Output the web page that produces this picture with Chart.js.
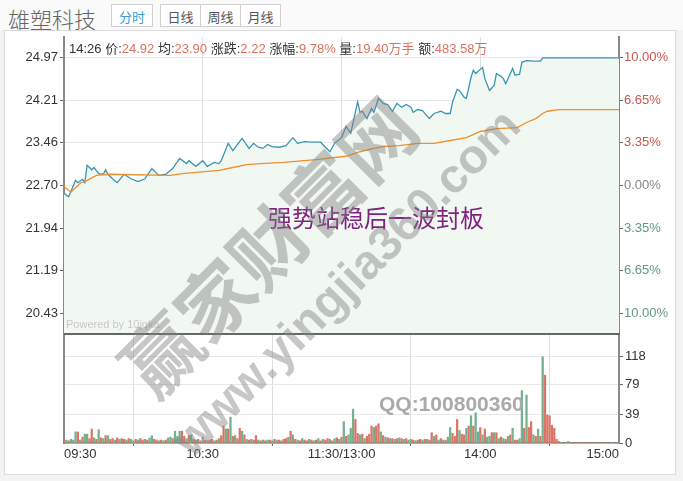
<!DOCTYPE html>
<html>
<head>
<meta charset="utf-8">
<script src="https://cdn.jsdelivr.net/npm/chart.js@4.4.0/dist/chart.umd.min.js"></script>
<style>
  body { margin: 0; width: 683px; height: 481px; overflow: hidden; position: relative; background: #f3f3f3;
         font-family: "Liberation Sans", Arial, "Noto Sans CJK SC", sans-serif; }
  .abs { position: absolute; }
  #top { left: 0; top: 0; width: 683px; height: 30px; background: #fafafa; }
  #title { left: 8px; top: 2px; font-size: 22px; color: #666; font-family: "Noto Sans CJK SC", sans-serif; font-weight: 300; }
  .btn { top: 4px; height: 23px; line-height: 23px; font-size: 13px; text-align: center; border: 1px solid #d0d0d0;
         box-sizing: border-box; background: #fff; color: #555; font-family: "Noto Sans CJK SC", sans-serif; }
  #frame { left: 4px; top: 30px; width: 672px; height: 445px; background: #fff; border: 1px solid #dcdcdc; box-sizing: border-box; }
  #info { left: 69px; top: 38px; font-size: 13px; color: #333; white-space: nowrap; font-family: "Liberation Sans", Arial, "Noto Sans CJK SC", sans-serif; }
  #info b { font-weight: normal; color: #d9735f; }
  #sep { left: 64px; top: 333px; width: 556px; height: 2px; background: #666; }
  #powered { left: 66px; top: 318px; font-size: 11px; color: #c8c8c8; }
  #note { left: 268px; top: 199px; font-size: 24px; color: #7f2280; font-family: "Noto Sans CJK SC", sans-serif; white-space: nowrap; }
  .wm { color: rgba(130,130,130,0.45); white-space: nowrap; transform-origin: center center; pointer-events: none; }
  #wm1 { left: 266px; top: 244px; font-size: 76px; font-weight: bold; font-family: "Noto Sans CJK SC", sans-serif;
         transform: translate(-50%, -50%) rotate(-45deg); }
  #wm2 { left: 346px; top: 282px; font-size: 48px; font-weight: bold;
         transform: translate(-50%, -50%) rotate(-45deg); }
  #qq { left: 379px; top: 392px; font-size: 21px; font-weight: bold; color: #aaa; }
</style>
</head>
<body>
<div id="top" class="abs"></div>
<div id="title" class="abs">雄塑科技</div>
<div class="abs btn" style="left:111px;width:42px;color:#3a9ccc;">分时</div>
<div class="abs btn" style="left:160px;width:41px;">日线</div>
<div class="abs btn" style="left:200px;width:41px;">周线</div>
<div class="abs btn" style="left:240px;width:41px;">月线</div>
<div id="frame" class="abs"></div>

<canvas id="priceChart" class="abs" width="672" height="305" style="left:4px;top:30px;"></canvas>
<canvas id="volChart" class="abs" width="672" height="140" style="left:4px;top:334px;"></canvas>
<div id="sep" class="abs"></div>

<div id="info" class="abs">14:26 价:<b>24.92</b> 均:<b>23.90</b> 涨跌:<b>2.22</b> 涨幅:<b>9.78%</b> 量:<b>19.40万手</b> 额:<b>483.58万</b></div>
<div id="powered" class="abs">Powered by 10jqka</div>
<div id="note" class="abs">强势站稳后一波封板</div>
<div id="wm1" class="abs wm">赢家财富网</div>
<div id="wm2" class="abs wm">www.yingjia360.com</div>
<div id="qq" class="abs">QQ:100800360</div>

<script>
// minutes since open (0 = 09:30, 120 = 11:30/13:00, 240 = 15:00)
const priceMin = [0, 2, 5, 6, 8, 9, 10, 12, 13, 15, 17, 18, 19, 21, 23, 26, 29, 32, 35, 38,
  41, 44, 47, 50, 53, 54, 57, 60, 62, 65, 67, 68, 71, 73, 77, 80, 82, 84, 86, 88,
  90, 93, 96, 99, 101, 104, 107, 111, 113, 115, 117, 120, 122, 124, 127, 128, 129, 131, 133, 134,
  136, 138, 140, 142, 144, 146, 148, 150, 151, 153, 155, 158, 160, 163, 165, 167, 168, 170, 171, 173,
  174, 176, 177, 178, 181, 182, 184, 186, 187, 189, 190, 191, 193, 194, 195, 197, 198, 200, 203, 206,
  207, 240];
const price = [22.56, 22.50, 22.79, 22.75, 22.81, 22.75, 23.06, 22.98, 23.02, 22.91, 22.90, 22.98, 22.90, 22.82, 22.75, 22.90, 22.82, 22.77, 22.82, 23.00,
  22.88, 22.90, 23.00, 23.18, 23.09, 23.14, 23.04, 23.14, 23.04, 23.11, 23.09, 23.14, 23.45, 23.32, 23.54, 23.36, 23.45, 23.38, 23.36, 23.43,
  23.39, 23.38, 23.41, 23.55, 23.45, 23.48, 23.47, 23.47, 23.38, 23.30, 23.45, 23.55, 23.75, 23.63, 24.19, 24.00, 24.02, 23.89, 24.07, 24.00,
  24.25, 24.16, 24.14, 24.02, 24.16, 24.09, 24.14, 24.09, 24.00, 24.05, 24.03, 23.89, 23.98, 24.02, 23.98, 23.98, 24.18, 24.41, 24.39, 24.27,
  24.25, 24.62, 24.75, 24.69, 24.80, 24.60, 24.39, 24.48, 24.69, 24.64, 24.60, 24.51, 24.69, 24.78, 24.66, 24.68, 24.89, 24.92, 24.91, 24.91,
  24.97, 24.97];

const avgMin = [0, 3, 7, 10, 14, 20, 46, 51, 56, 67, 73, 79, 85, 95, 109, 122, 128, 134, 138, 145,
  153, 160, 167, 174, 180, 187, 196, 200, 204, 207, 209, 214, 240];
const avgPrice = [22.68, 22.58, 22.74, 22.79, 22.88, 22.90, 22.88, 22.91, 22.93, 22.97, 23.02, 23.07, 23.09, 23.11, 23.16, 23.22, 23.30, 23.36, 23.39, 23.41,
  23.45, 23.45, 23.50, 23.55, 23.66, 23.71, 23.73, 23.82, 23.89, 23.98, 24.02, 24.05, 24.05];

// volume per minute (10k shares), one bar per minute 0..240
const volume = [
  3, 4, 3, 5, 4, 15, 15, 4, 8, 12,
  12, 6, 19, 7, 5, 18, 7, 6, 10, 10,
  5, 6, 4, 7, 5, 6, 5, 4, 6, 5,
  3, 5, 4, 6, 4, 5, 4, 7, 10, 5,
  4, 3, 4, 3, 4, 7, 8, 6, 16, 9,
  16, 16, 9, 6, 10, 11, 5, 4, 5, 3,
  8, 4, 3, 4, 5, 3, 4, 6, 10, 23,
  19, 19, 35, 9, 10, 6, 20, 16, 11, 5,
  4, 5, 4, 10, 4, 3, 4, 3, 4, 4,
  3, 5, 4, 4, 3, 5, 6, 8, 16, 11,
  5, 4, 3, 6, 4, 3, 5, 4, 3, 4,
  6, 3, 5, 4, 6, 5, 3, 6, 7, 5,
  8, 29, 9, 11, 20, 46, 32, 13, 11, 12,
  6, 9, 12, 23, 21, 23, 26, 15, 10, 8,
  7, 6, 6, 5, 6, 7, 6, 5, 6, 4,
  5, 4, 3, 4, 5, 4, 5, 5, 4, 14,
  9, 11, 4, 6, 4, 4, 8, 21, 13, 9,
  32, 17, 12, 11, 20, 23, 37, 23, 41, 15,
  21, 11, 19, 8, 9, 14, 14, 14, 6, 8,
  6, 5, 9, 11, 20, 4, 4, 6, 71, 20,
  65, 21, 29, 11, 9, 19, 9, 117, 92, 38,
  37, 24, 20, 5, 2, 1, 0, 1, 2, 0,
  1, 0, 1, 1, 0, 0, 1, 0, 1, 0,
  0, 1, 0, 0, 1, 0, 0, 1, 0, 0, 2];
// r = up minute, g = down minute
const volSide =
  'rgrgggrgrg' + 'grrgrgrgrg' + 'rrgrgrrgrg' + 'grgrrgrggr' + 'rgrgrggrgg' + 'grrgrgrgrr' +
  'grgrrgrgrr' + 'grgrgrrgrg' + 'rgrrgrgrgr' + 'grgrgrrgrg' + 'rgrgrrgrgr' + 'grgrrgrgrg' +
  'rgrgggrrgr' + 'grrrgrrgrg' + 'rgrgrgrgrg' + 'grgrrgrgrr' + 'grgrgrggrr' + 'rgrrgrgrgg' +
  'rgrggrgrgr' + 'grgrgrrggr' + 'grrgrgrgrr' + 'rrrrrgrgrg' + 'rgrgrgrgrg' + 'rgrgrgrgrgr';

const priceTicks = [20.43, 21.19, 21.94, 22.70, 23.46, 24.21, 24.97];
const pctLabels = ['10.00%', '6.65%', '3.35%', '0.00%', '3.35%', '6.65%', '10.00%'];
const volTicks = [0, 39, 79, 118];
const timeTicks = [0, 60, 120, 180, 240];
const timeLabels = ['09:30', '10:30', '11:30/13:00', '14:00', '15:00'];

const RED = '#dc7565';
const GREEN = '#72b08e';
const tickFont = { family: '"Liberation Sans", Arial, sans-serif', size: 13 };

// fixed axis width, and no extra room reserved for the end labels
function fixWidth(w) {
  return function(scale) {
    scale.width = w;
    scale.paddingTop = 0;
    scale.paddingBottom = 0;
  };
}

function pctColor(context) {
  const i = context.index;
  if (i > 3) return '#c9564b';
  if (i === 3) return '#888';
  return '#62978a';
}

new Chart(document.getElementById('priceChart'), {
  type: 'line',
  data: {
    datasets: [
      {
        data: avgMin.map((m, i) => ({ x: m, y: avgPrice[i] })),
        borderColor: '#ec912c',
        borderWidth: 1.3,
        pointRadius: 0,
        fill: false
      },
      {
        data: priceMin.map((m, i) => ({ x: m, y: price[i] })),
        borderColor: '#3b94b3',
        borderWidth: 1.3,
        pointRadius: 0,
        fill: 'start',
        backgroundColor: '#f1f8f2'
      }
    ]
  },
  options: {
    responsive: false,
    animation: false,
    events: [],
    layout: { padding: { top: 7, bottom: 1, left: 0, right: 0 } },
    plugins: { legend: { display: false }, tooltip: { enabled: false } },
    scales: {
      x: {
        type: 'linear', min: 0, max: 240,
        afterBuildTicks: s => { s.ticks = [60, 120, 180].map(v => ({ value: v })); },
        afterFit: s => { s.height = 0; s.paddingLeft = 0; s.paddingRight = 0; },
        ticks: { display: false },
        grid: { color: '#dedede', drawTicks: false },
        border: { display: false }
      },
      y: {
        position: 'left', min: 20.06, max: 25.34,
        afterBuildTicks: s => { s.ticks = priceTicks.map(v => ({ value: v })); },
        afterFit: fixWidth(60),
        ticks: { color: '#333', font: tickFont, padding: 2, callback: v => v.toFixed(2) },
        grid: { color: '#e8e8e8', tickLength: 4, tickColor: '#666' },
        border: { color: '#888', width: 2 }
      },
      yr: {
        position: 'right', min: 20.06, max: 25.34,
        afterBuildTicks: s => { s.ticks = priceTicks.map(v => ({ value: v })); },
        afterFit: fixWidth(57),
        ticks: { color: pctColor, font: tickFont, padding: 1, callback: (v, i) => pctLabels[i] },
        grid: { drawOnChartArea: false, tickLength: 4, tickColor: '#666' },
        border: { color: '#888', width: 2 }
      }
    }
  }
});

new Chart(document.getElementById('volChart'), {
  type: 'bar',
  data: {
    datasets: [{
      data: volume.map((v, i) => ({ x: i, y: v })),
      backgroundColor: volume.map((v, i) => volSide[i] === 'r' ? RED : GREEN),
      barThickness: 1.6
    }]
  },
  options: {
    responsive: false,
    animation: false,
    events: [],
    layout: { padding: { top: 0, bottom: 11, left: 0, right: 0 } },
    plugins: { legend: { display: false }, tooltip: { enabled: false } },
    scales: {
      x: {
        type: 'linear', min: 0, max: 240, offset: false,
        afterBuildTicks: s => { s.ticks = timeTicks.map(v => ({ value: v })); },
        afterFit: s => { s.height = 20; s.paddingLeft = 0; s.paddingRight = 0; },
        ticks: { color: '#333', font: tickFont, padding: 1, maxRotation: 0, autoSkip: false, align: 'inner',
                 callback: (v, i) => timeLabels[i] },
        grid: { color: '#dedede', tickLength: 3, tickColor: '#666' },
        border: { color: '#777', width: 1.5 }
      },
      y: {
        position: 'left', min: 0, max: 148,
        afterBuildTicks: s => { s.ticks = volTicks.map(v => ({ value: v })); },
        afterFit: fixWidth(60),
        ticks: { display: false },
        grid: { color: '#e8e8e8', drawTicks: false },
        border: { color: '#888', width: 2 }
      },
      yr: {
        position: 'right', min: 0, max: 148,
        afterBuildTicks: s => { s.ticks = volTicks.map(v => ({ value: v })); },
        afterFit: fixWidth(57),
        ticks: { color: '#333', font: tickFont, padding: 2 },
        grid: { drawOnChartArea: false, tickLength: 4, tickColor: '#666' },
        border: { color: '#888', width: 2 }
      }
    }
  }
});
</script>
</body>
</html>
